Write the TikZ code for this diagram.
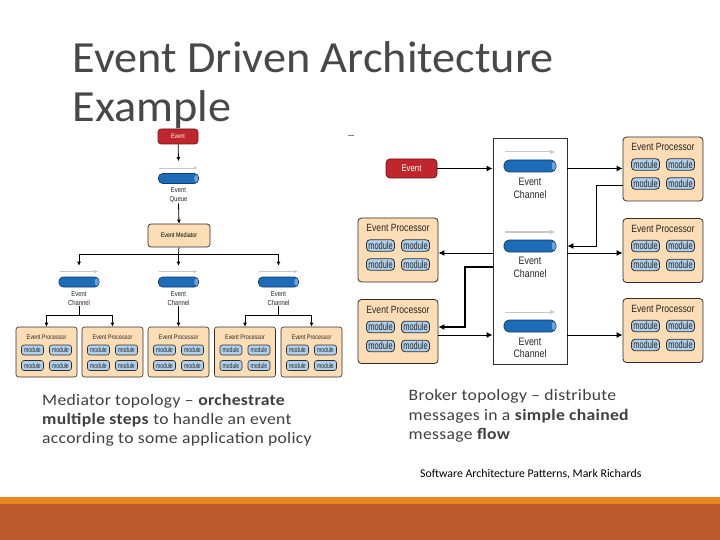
\documentclass[tikz,border=0pt]{standalone}
\usepackage{fontspec}
\setmainfont{Carlito}
\newfontfamily\titlefont[FakeStretch=1.04]{Carlito}
\newfontfamily\bodyfont[FakeStretch=1.1,LetterSpace=2]{Carlito}
\newfontfamily\cond[FakeStretch=0.82]{Liberation Sans}
\newfontfamily\condm[FakeStretch=0.7]{Liberation Sans}
\usetikzlibrary{arrows.meta}
\definecolor{txtgrey}{HTML}{404040}
\definecolor{titgrey}{HTML}{484848}
\definecolor{evred}{HTML}{C0272D}
\definecolor{evredd}{HTML}{6E1215}
\definecolor{peach}{HTML}{FCDDB5}
\definecolor{modblue}{HTML}{AFCFEA}
\definecolor{chanblue}{HTML}{1E6BB8}
\definecolor{chanbd}{HTML}{0E3D6E}
\definecolor{chancap}{HTML}{6FA3D8}
\definecolor{garr}{HTML}{C8C8C8}
\definecolor{stripe}{HTML}{E5891E}
\definecolor{band}{HTML}{BD5A2D}
\definecolor{boxbd}{HTML}{2E2E2E}

\newcommand{\myBigEP}[3]{%
  \node[epB] (#1) at (#2,#3) {};
  \node[eptB] (#1t) at (#2,#3-22) {Event Processor};
  \node[modB] (#1a) at (#2-17.5,#3-4.5) {module};
  \node[modB] (#1b) at (#2+17.5,#3-4.5) {module};
  \node[modB] (#1c) at (#2-17.5,#3+14.5) {module};
  \node[modB] (#1d) at (#2+17.5,#3+14.5) {module};
}
\newcommand{\mySmallEP}[3]{%
  \node[epS] (#1) at (#2,#3) {};
  \node[eptS] (#1t) at (#2,#3-15) {Event Processor};
  \node[modS] (#1a) at (#2-14,#3-2) {module};
  \node[modS] (#1b) at (#2+14,#3-2) {module};
  \node[modS] (#1c) at (#2-14,#3+13.5) {module};
  \node[modS] (#1d) at (#2+14,#3+13.5) {module};
}
\newcommand{\myChanCap}[2]{%
  \fill[chancap] ([xshift=-2.6pt]#1.east) ellipse [x radius=2pt, y radius=#2];
}

\begin{document}
\begin{tikzpicture}[x=1pt,y=-1pt,
  title/.style={anchor=base west, inner sep=0, text=titgrey, font=\titlefont\fontsize{44.5}{49}\selectfont},
  body/.style={anchor=base west, inner sep=0, text=txtgrey, font=\bodyfont\fontsize{16}{19}\selectfont},
  epB/.style={draw=boxbd, fill=peach, rounded corners=3.5pt, line width=0.8pt, minimum width=80pt, minimum height=64pt, inner sep=0},
  eptB/.style={inner sep=0, font=\cond\fontsize{10.5}{11}\selectfont, text=black!85},
  modB/.style={draw=boxbd, fill=modblue, rounded corners=3.5pt, line width=0.8pt, minimum width=28pt, minimum height=11.5pt, inner sep=0, font=\condm\fontsize{10.6}{10}\selectfont, text=black!85},
  epS/.style={draw=boxbd, fill=peach, rounded corners=2.5pt, line width=0.6pt, minimum width=61pt, minimum height=50pt, inner sep=0},
  eptS/.style={inner sep=0, font=\cond\fontsize{6.6}{7}\selectfont, text=black!85},
  modS/.style={draw=boxbd, fill=modblue, rounded corners=2.5pt, line width=0.6pt, minimum width=22pt, minimum height=10pt, inner sep=0, font=\condm\fontsize{7.2}{7}\selectfont, text=black!85},
  chanB/.style={draw=chanbd, fill=chanblue, rounded corners=5pt, line width=0.7pt, minimum width=52pt, minimum height=12pt, inner sep=0},
  chanS/.style={draw=chanbd, fill=chanblue, rounded corners=4pt, line width=0.6pt, minimum width=40pt, minimum height=10pt, inner sep=0},
  lblB/.style={inner sep=0, align=center, font=\cond\fontsize{10.8}{12.5}\selectfont, text=black!85},
  lblS/.style={inner sep=0, align=center, font=\cond\fontsize{7.2}{9}\selectfont, text=black!85},
  redB/.style={draw=evredd, fill=evred, rounded corners=4pt, line width=0.8pt, minimum width=51pt, minimum height=19pt, inner sep=0, text=white, font=\cond\fontsize{9.5}{10}\selectfont},
  redS/.style={draw=evredd, fill=evred, rounded corners=3pt, line width=0.6pt, minimum width=40pt, minimum height=15pt, inner sep=0, text=white, font=\cond\fontsize{6.5}{7}\selectfont},
  arrB/.style={draw=black, line width=1pt, -{Latex[length=6pt,width=6pt]}},
  arrS/.style={draw=black, line width=0.8pt, -{Latex[length=4pt,width=4pt]}},
  lnS/.style={draw=black, line width=0.8pt},
  garrB/.style={draw=garr, line width=1pt, -{Latex[length=5pt,width=4.5pt]}},
  garrS/.style={draw=garr, line width=0.8pt, -{Latex[length=4pt,width=3.5pt]}}
]
\useasboundingbox (0,0) rectangle (720,540);
\fill[white] (0,0) rectangle (720,540);

% title
\node[title] (t1) at (72.5,72.7) {Event Driven Architecture};
\node[title] (t2) at (72.5,121.7) {Example};
\draw[gray, line width=1pt] (348,136) -- (354,136);

% ===== left: mediator topology =====
\node[redS] (lev) at (178,136.5) {Event};
\node[chanS] (lq) at (178.5,178.5) {};
\myChanCap{lq}{3.6pt}
\draw[garrS] ([yshift=10.5pt,xshift=1pt]lq.west) -- ([yshift=10.5pt,xshift=-1pt]lq.east);
\node[lblS] (lql) at (178.5,195.5) {Event\\Queue};
\draw[arrS] (lev) -- ([yshift=12pt]lq.north);
\node[draw=boxbd, fill=peach, rounded corners=3pt, line width=0.7pt, minimum width=62pt, minimum height=23pt, inner sep=0, font=\cond\fontsize{6.6}{7}\selectfont] (med) at (179,235.5) {Event Mediator};
\draw[arrS] (lql.south) -- (med.north);

\node[chanS] (lc1) at (79,282) {};
\node[chanS] (lc2) at (178.5,282) {};
\node[chanS] (lc3) at (278.5,282) {};
\foreach \c in {lc1,lc2,lc3}{
  \myChanCap{\c}{3.6pt}
  \draw[garrS] ([yshift=10.5pt,xshift=1pt]\c.west) -- ([yshift=10.5pt,xshift=-1pt]\c.east);
}
\coordinate (hub) at (178.5,254);
\coordinate (hl) at (79,254);
\coordinate (hr) at (278.5,254);
\draw[lnS] (med.south) -- (hub);
\draw[lnS] (hl) -- (hr);
\draw[arrS] (hl) -- ([yshift=11pt]lc1.north);
\draw[arrS] (hub) -- ([yshift=11pt]lc2.north);
\draw[arrS] (hr) -- ([yshift=11pt]lc3.north);
\node[lblS] (lc1l) at (79,298.5) {Event\\Channel};
\node[lblS] (lc2l) at (178.5,298.5) {Event\\Channel};
\node[lblS] (lc3l) at (278.5,298.5) {Event\\Channel};

\mySmallEP{p1}{46.5}{352}
\mySmallEP{p2}{112.5}{352}
\mySmallEP{p3}{178.5}{352}
\mySmallEP{p4}{245}{352}
\mySmallEP{p5}{311.5}{352}

\coordinate (s1) at (79,315);
\coordinate (s1l) at (46.5,315);
\coordinate (s1r) at (112.5,315);
\draw[lnS] (lc1l.south) -- (s1);
\draw[lnS] (s1l) -- (s1r);
\draw[arrS] (s1l) -- (p1.north);
\draw[arrS] (s1r) -- (p2.north);
\draw[arrS] (lc2l.south) -- (p3.north);
\coordinate (s3) at (278.5,315);
\coordinate (s3l) at (245,315);
\coordinate (s3r) at (311.5,315);
\draw[lnS] (lc3l.south) -- (s3);
\draw[lnS] (s3l) -- (s3r);
\draw[arrS] (s3l) -- (p4.north);
\draw[arrS] (s3r) -- (p5.north);

% ===== right: broker topology =====
\node[draw=boxbd, fill=white, line width=0.9pt, minimum width=74pt, minimum height=226pt, inner sep=0] (bk) at (530,251) {};
\node[redB] (rev) at (411.5,168.5) {Event};
\node[chanB] (ch1) at (530,166) {};
\node[chanB] (ch2) at (530,246) {};
\node[chanB] (ch3) at (530,326) {};
\foreach \c in {ch1,ch2,ch3}{
  \myChanCap{\c}{4.4pt}
  \draw[garrB] ([yshift=14pt,xshift=1pt]\c.west) -- ([yshift=14pt,xshift=-1pt]\c.east);
}
\node[lblB] (ch1l) at (530,188.5) {Event\\Channel};
\node[lblB] (ch2l) at (530,267.5) {Event\\Channel};
\node[lblB] (ch3l) at (530,348) {Event\\Channel};

\myBigEP{rp1}{663}{169}
\myBigEP{rp2}{663}{250.5}
\myBigEP{rp3}{663}{330.5}
\myBigEP{lp2}{398}{250}
\myBigEP{lp3}{398}{331.5}

\draw[arrB] (rev.east) -- (rev.east -| bk.west);
\draw[arrB] (bk.east |- rev.east) -- (rp1.west |- rev.east);
\draw[arrB] (rp1.west |- 0,186) -- (596,186) -- (596,246) -- (bk.east |- 0,246);
\draw[arrB] (bk.east |- 0,253) -- (rp2.west |- 0,253);
\draw[arrB] (bk.west |- 0,253) -- (lp2.east |- 0,253);
\draw[arrB, line width=1.8pt] (bk.west |- 0,267) -- (465,267) -- (465,327) -- (lp3.east |- 0,327);
\draw[arrB] (lp3.east |- 0,335) -- (bk.west |- 0,335);
\draw[arrB] (bk.east |- 0,335) -- (rp3.west |- 0,335);

% ===== texts =====
\node[body] (m1) at (42,405) {Mediator topology – \textbf{orchestrate}};
\node[body] (m2) at (42,424.3) {\textbf{multiple steps} to handle an event};
\node[body] (m3) at (42,443.3) {according to some application policy};
\node[body] (b1) at (408.5,400.7) {Broker topology – distribute};
\node[body] (b2) at (408.5,420) {messages in a \textbf{simple chained}};
\node[body] (b3) at (408.5,439.2) {message \textbf{flow}};
\node[anchor=base west, inner sep=0, text=black, font=\fontsize{11.8}{13}\selectfont] (ref) at (420,477) {Software Architecture Patterns, Mark Richards};

% bottom bars
\fill[stripe] (0,497) rectangle (720,504);
\fill[band] (0,504) rectangle (720,540);
\end{tikzpicture}
\end{document}
